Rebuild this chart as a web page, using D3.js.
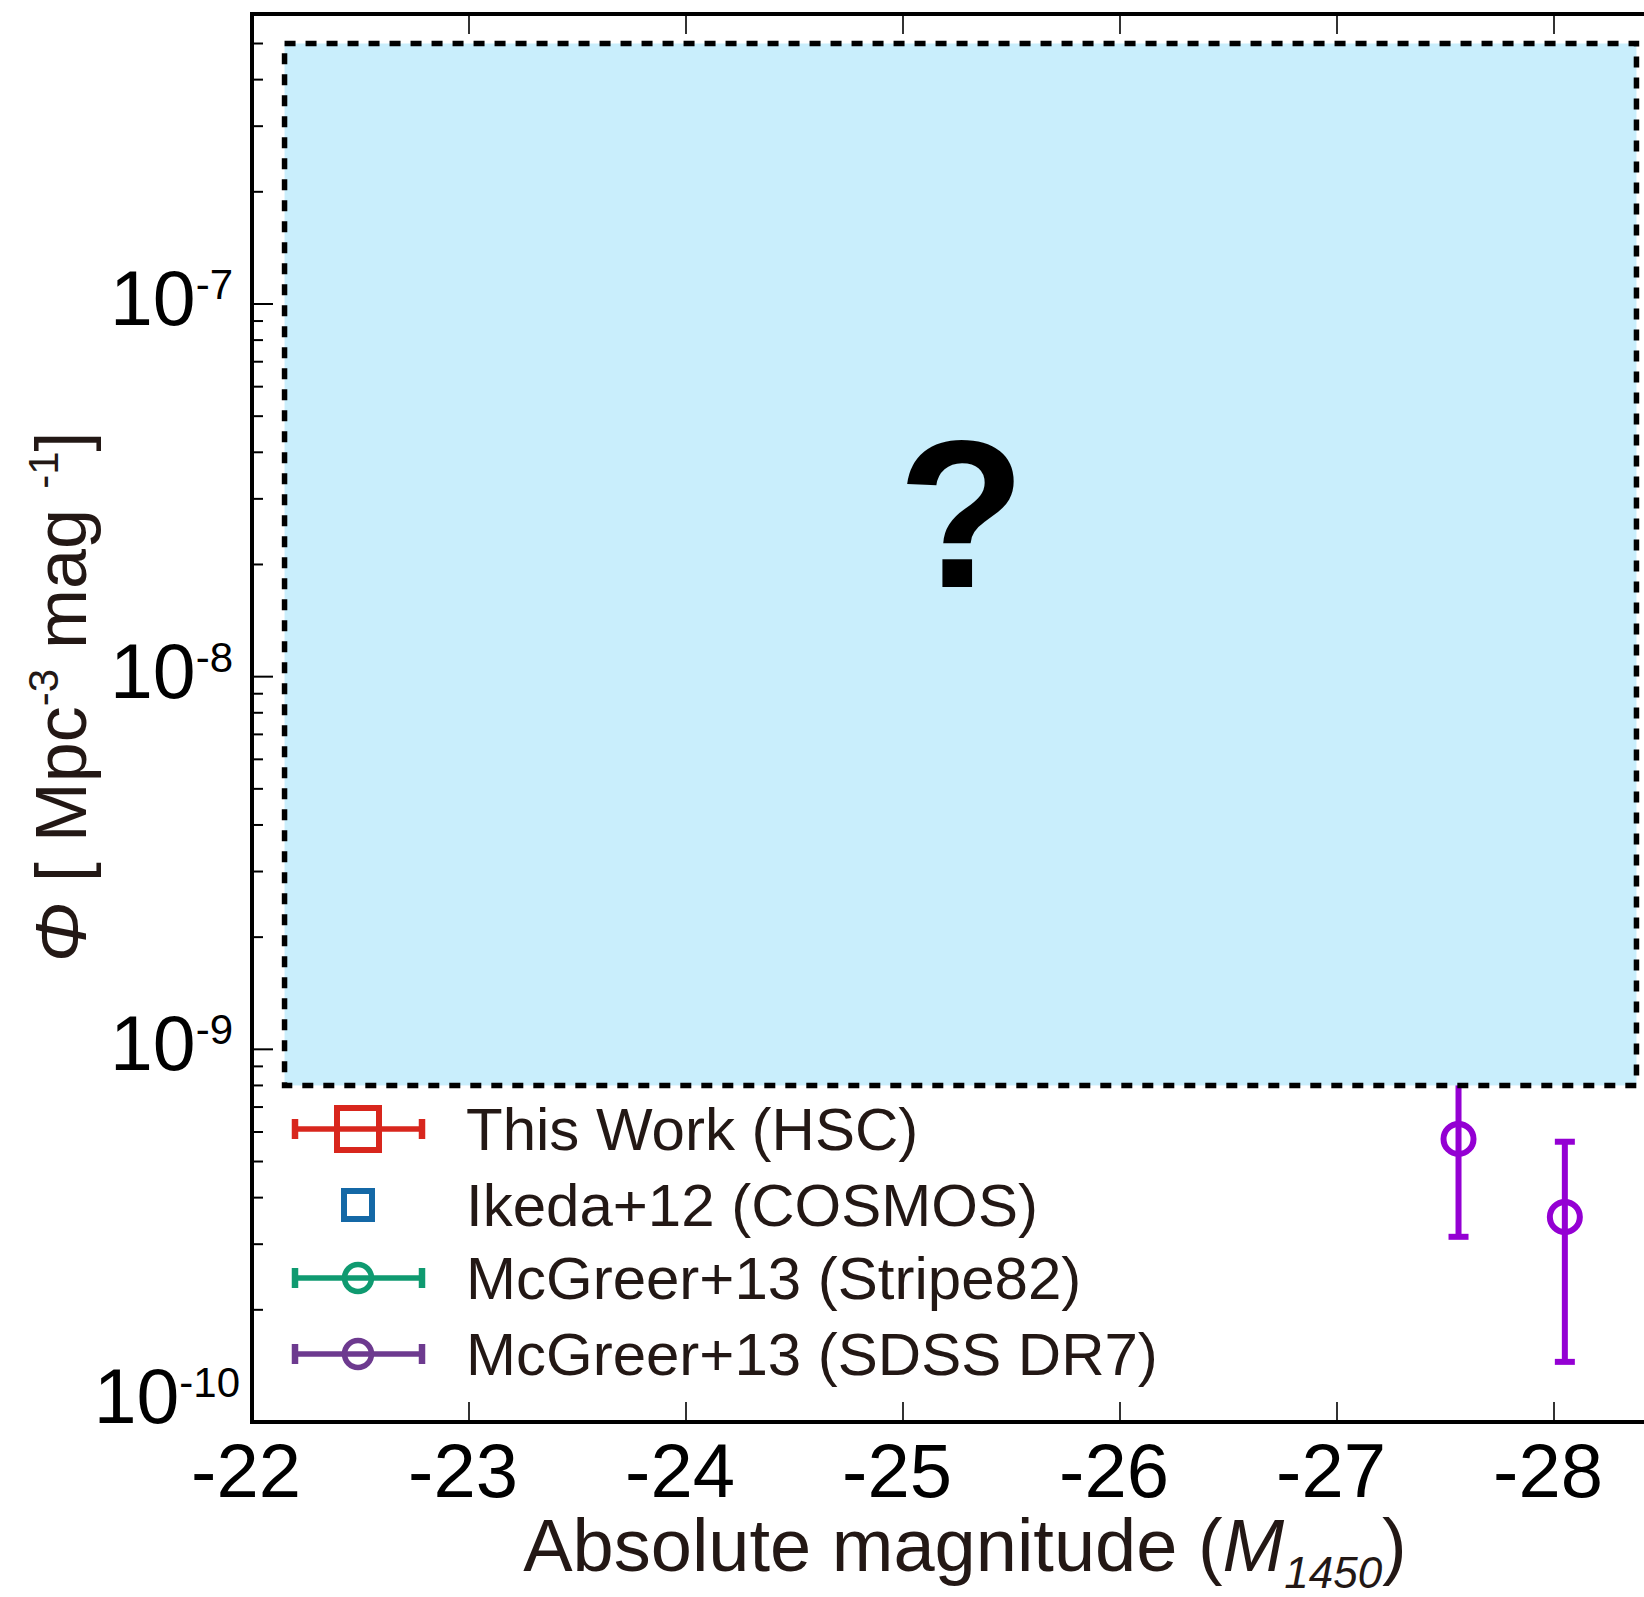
<!DOCTYPE html>
<html>
<head>
<meta charset="utf-8">
<script src="https://cdn.jsdelivr.net/npm/d3@7"></script>
<style>
  body { margin: 0; background: #fff; }
  svg { display: block; font-family: "Liberation Sans", Arial, sans-serif; }
</style>
</head>
<body>
<svg id="chart" width="1644" height="1597"></svg>
<script>
// data
const sdssMag   = [-27.56, -28.05];
const sdssPhi   = [5.75e-10, 3.55e-10];
const sdssLo    = [3.14e-10, 1.45e-10];
const sdssHi    = [8.36e-10, 5.65e-10];

// hidden region (the "?" box)
const boxMag = [-22.15, -28.38];
const boxPhi = [8e-10, 5e-7];
const qMark  = {mag: -25.27, phi: 1.74e-8};

const xTicks = [-22, -23, -24, -25, -26, -27, -28];
const yMajor = [-10, -9, -8, -7];

const legendNames  = ["This Work (HSC)", "Ikeda+12 (COSMOS)", "McGreer+13 (Stripe82)", "McGreer+13 (SDSS DR7)"];
const legendColors = ["#d8261d", "#1468a6", "#0f9a70", "#6d3a8f"];
const legendMarker = ["square", "smallsquare", "circle", "circle"];
const legendBars   = [true, false, true, true];

const svg = d3.select("#chart");
const textCol = "#231815";

const x = d3.scaleLinear().domain([-22, -28.5]).range([252, 252 + 6.5 * 217]);
const y = d3.scaleLog().domain([1e-10, 6e-7]).range([1422, 14]);

// data points (under the box)
const g = svg.append("g");
const purple = "#9400d3";
sdssMag.forEach(function(m, i) {
    const cx = x(m);
    g.append("line")
        .attr("x1", cx).attr("x2", cx)
        .attr("y1", y(sdssLo[i])).attr("y2", y(sdssHi[i]))
        .attr("stroke", purple).attr("stroke-width", 6);
    [sdssLo[i], sdssHi[i]].forEach(function(v) {
        g.append("line")
            .attr("x1", cx - 10).attr("x2", cx + 10)
            .attr("y1", y(v)).attr("y2", y(v))
            .attr("stroke", purple).attr("stroke-width", 6);
    });
    g.append("circle")
        .attr("cx", cx).attr("cy", y(sdssPhi[i]))
        .attr("r", 15)
        .attr("fill", "none")
        .attr("stroke", purple).attr("stroke-width", 6);
});

// covering box
svg.append("rect")
    .attr("x", x(boxMag[0]))
    .attr("y", y(boxPhi[1]))
    .attr("width", x(boxMag[1]) - x(boxMag[0]))
    .attr("height", y(boxPhi[0]) - y(boxPhi[1]))
    .attr("fill", "#c9eefc")
    .attr("stroke", "#000")
    .attr("stroke-width", 5.5)
    .attr("stroke-dasharray", "11,10");

svg.append("text")
    .attr("x", x(qMark.mag))
    .attr("y", y(qMark.phi))
    .attr("text-anchor", "middle")
    .attr("font-weight", "bold")
    .attr("font-size", 210)
    .attr("fill", "#000")
    .text("?");

// axes
const axG = svg.append("g");
// x ticks, bottom and top, inward
xTicks.forEach(function(t) {
    axG.append("line").attr("x1", x(t)).attr("x2", x(t))
        .attr("y1", 1422).attr("y2", 1402)
        .attr("stroke", "#333").attr("stroke-width", 2);
    axG.append("line").attr("x1", x(t)).attr("x2", x(t))
        .attr("y1", 14).attr("y2", 34)
        .attr("stroke", "#333").attr("stroke-width", 2);
    axG.append("text")
        .attr("x", x(t) - 6).attr("y", 1497)
        .attr("text-anchor", "middle")
        .attr("font-size", 76)
        .attr("fill", "#000")
        .text(String(t));
});

// y ticks
yMajor.forEach(function(d) {
    const v = Math.pow(10, d);
    axG.append("line").attr("x1", 252).attr("x2", 273)
        .attr("y1", y(v)).attr("y2", y(v))
        .attr("stroke", "#000").attr("stroke-width", 2);
    for (let m = 2; m <= 9; m++) {
        const mv = m * v;
        if (mv > y.domain()[1]) break;
        axG.append("line").attr("x1", 252).attr("x2", 263)
            .attr("y1", y(mv)).attr("y2", y(mv))
            .attr("stroke", "#000").attr("stroke-width", 2);
    }
    const lab = axG.append("text")
        .attr("x", d === -10 ? 240 : 233)
        .attr("y", Math.min(y(v) + 21, 1423))
        .attr("text-anchor", "end")
        .attr("font-size", 77)
        .attr("fill", "#000");
    lab.append("tspan").text("10");
    lab.append("tspan").attr("dy", -26).attr("font-size", 42).text(String(d));
});

// frame
axG.append("line").attr("x1", 252).attr("x2", 252).attr("y1", 12).attr("y2", 1424)
    .attr("stroke", "#000").attr("stroke-width", 4);
axG.append("line").attr("x1", 250).attr("x2", 1644).attr("y1", 1422).attr("y2", 1422)
    .attr("stroke", "#000").attr("stroke-width", 4);
axG.append("line").attr("x1", 250).attr("x2", 1644).attr("y1", 14).attr("y2", 14)
    .attr("stroke", "#000").attr("stroke-width", 4);

// axis titles
const xt = svg.append("text")
    .attr("x", 965).attr("y", 1571)
    .attr("text-anchor", "middle")
    .attr("font-size", 74)
    .attr("fill", textCol);
xt.append("tspan").text("Absolute magnitude (");
xt.append("tspan").attr("font-style", "italic").text("M");
xt.append("tspan").attr("font-style", "italic").attr("font-size", 44).attr("dy", 17).text("1450");
xt.append("tspan").attr("dy", -17).text(")");

const yt = svg.append("text")
    .attr("transform", "translate(86,697) rotate(-90)")
    .attr("text-anchor", "middle")
    .attr("font-size", 72)
    .attr("fill", textCol);
yt.append("tspan").attr("font-style", "italic").text("\u03A6");
yt.append("tspan").text(" [ Mpc");
yt.append("tspan").attr("font-size", 42).attr("dy", -28).text("-3");
yt.append("tspan").attr("dy", 28).text(" mag ");
yt.append("tspan").attr("font-size", 42).attr("dy", -28).text("-1");
yt.append("tspan").attr("dy", 28).text("]");

// legend
const legRows = [1129, 1205, 1278, 1354];
legendNames.forEach(function(name, i) {
    const col = legendColors[i];
    const ry = legRows[i];
    const lg = svg.append("g");
    if (legendBars[i]) {
        lg.append("line").attr("x1", 292).attr("x2", 425).attr("y1", ry).attr("y2", ry)
            .attr("stroke", col).attr("stroke-width", 5.5);
        [295, 422].forEach(function(cx) {
            lg.append("line").attr("x1", cx).attr("x2", cx).attr("y1", ry - 10).attr("y2", ry + 10)
                .attr("stroke", col).attr("stroke-width", 6.5);
        });
    }
    if (legendMarker[i] === "square") {
        lg.append("rect").attr("x", 337).attr("y", ry - 21).attr("width", 42).attr("height", 42)
            .attr("fill", "none").attr("stroke", col).attr("stroke-width", 6);
    } else if (legendMarker[i] === "smallsquare") {
        lg.append("rect").attr("x", 344).attr("y", ry - 14).attr("width", 28).attr("height", 28)
            .attr("fill", "none").attr("stroke", col).attr("stroke-width", 6);
    } else {
        lg.append("circle").attr("cx", 358).attr("cy", ry).attr("r", 13.5)
            .attr("fill", "none").attr("stroke", col).attr("stroke-width", 5.5);
    }
    lg.append("text")
        .attr("x", 466).attr("y", ry + 21)
        .attr("font-size", 60)
        .attr("fill", textCol)
        .text(name);
});
</script>
</body>
</html>
